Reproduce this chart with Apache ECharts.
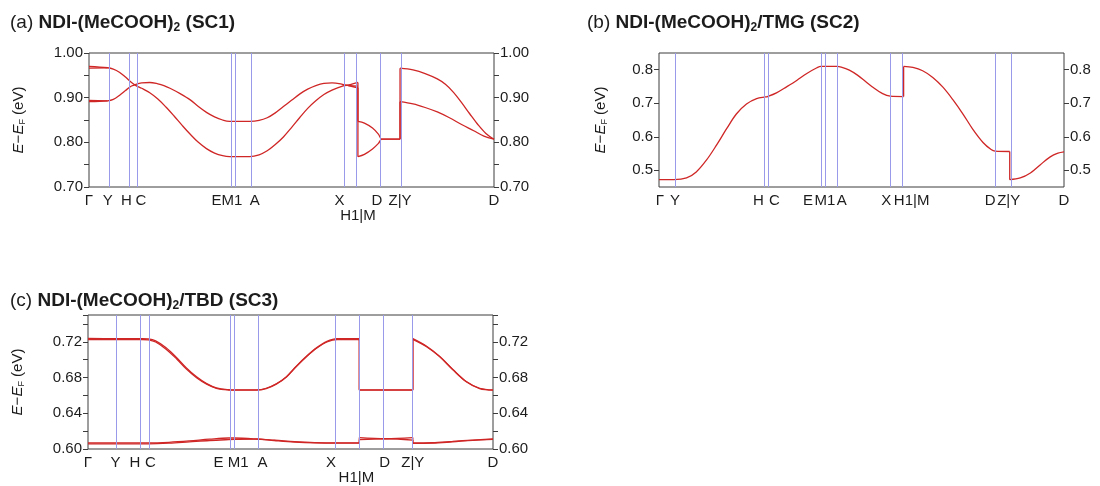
<!DOCTYPE html>
<html><head><meta charset="utf-8">
<script src="https://cdn.jsdelivr.net/npm/echarts@6/dist/echarts.min.js"></script>
<style>html,body{margin:0;padding:0;background:#fff}#c{width:1100px;height:486px}</style>
</head><body><div id="c"></div>
<script>
// ---------------- DATA ----------------
// Panel (a) NDI-(MeCOOH)2 (SC1)
const kLabelsA = ['Γ','Y','H','C','E','M1','A','X','H1|M','D','Z|Y','D'];
const kPosA = [0, 0.046, 0.105, 0.116, 0.347, 0.358, 0.397, 0.626, 0.664, 0.723, 0.768, 1];
const bandA1 = [[0,0.970],[0.046,0.967],[0.06,0.964],[0.075,0.957],[0.09,0.946],[0.105,0.934],[0.116,0.927],[0.13,0.921],[0.15,0.911],[0.17,0.897],[0.19,0.879],[0.21,0.859],[0.23,0.838],[0.25,0.818],[0.27,0.800],[0.29,0.786],[0.31,0.776],[0.33,0.770],[0.347,0.768],[0.358,0.768],[0.397,0.768],[0.42,0.772],[0.44,0.781],[0.46,0.795],[0.48,0.812],[0.50,0.833],[0.52,0.855],[0.54,0.876],[0.56,0.893],[0.58,0.907],[0.60,0.917],[0.626,0.926],[0.645,0.929],[0.664,0.934],[0.664,0.768],[0.68,0.773],[0.70,0.785],[0.715,0.798],[0.723,0.807],[0.768,0.807],[0.768,0.891],[0.80,0.886],[0.83,0.878],[0.86,0.868],[0.89,0.855],[0.92,0.840],[0.95,0.826],[0.975,0.814],[1,0.807]];
const bandA2 = [[0,0.891],[0.046,0.893],[0.06,0.896],[0.075,0.905],[0.09,0.916],[0.105,0.926],[0.116,0.930],[0.13,0.933],[0.15,0.934],[0.17,0.931],[0.185,0.927],[0.20,0.921],[0.225,0.909],[0.25,0.895],[0.27,0.880],[0.29,0.867],[0.31,0.857],[0.33,0.850],[0.347,0.847],[0.397,0.847],[0.42,0.849],[0.44,0.855],[0.46,0.866],[0.48,0.880],[0.50,0.894],[0.52,0.908],[0.54,0.919],[0.56,0.927],[0.58,0.932],[0.60,0.933],[0.626,0.930],[0.645,0.926],[0.664,0.922],[0.664,0.847],[0.68,0.843],[0.70,0.832],[0.715,0.818],[0.723,0.807],[0.768,0.807],[0.768,0.966],[0.80,0.962],[0.83,0.954],[0.86,0.942],[0.88,0.930],[0.90,0.912],[0.92,0.889],[0.94,0.864],[0.96,0.840],[0.98,0.820],[1,0.807]];
const bandA3 = [[0,0.966],[0.046,0.967]];
const bandA4 = [[0,0.894],[0.046,0.893]];
const bandA5 = [[0.626,0.928],[0.645,0.927],[0.664,0.926]];

// Panel (b) NDI-(MeCOOH)2/TMG (SC2)
const kLabelsB = ['Γ','Y','H','C','E','M1','A','X','H1|M','D','Z|Y','D'];
const kPosB = [0, 0.037, 0.263, 0.268, 0.400, 0.405, 0.439, 0.571, 0.604, 0.830, 0.866, 1];
const bandB1 = [[0,0.472],[0.037,0.472],[0.068,0.477],[0.092,0.495],[0.117,0.530],[0.142,0.575],[0.167,0.624],[0.191,0.668],[0.216,0.698],[0.241,0.714],[0.263,0.719],[0.268,0.720],[0.290,0.731],[0.315,0.749],[0.340,0.768],[0.365,0.789],[0.390,0.806],[0.400,0.810],[0.405,0.810],[0.439,0.810],[0.45,0.808],[0.47,0.799],[0.49,0.784],[0.51,0.765],[0.53,0.746],[0.55,0.730],[0.571,0.721],[0.604,0.720],[0.604,0.810],[0.627,0.807],[0.651,0.797],[0.676,0.777],[0.701,0.748],[0.726,0.710],[0.751,0.667],[0.775,0.622],[0.800,0.583],[0.820,0.562],[0.830,0.557],[0.866,0.556],[0.866,0.472],[0.892,0.477],[0.917,0.492],[0.941,0.516],[0.966,0.540],[0.985,0.551],[1,0.555]];

// Panel (c) NDI-(MeCOOH)2/TBD (SC3)
const kLabelsC = ['Γ','Y','H','C','E','M1','A','X','H1|M','D','Z|Y','D'];
const kPosC = [0, 0.068, 0.133, 0.149, 0.347, 0.361, 0.416, 0.615, 0.670, 0.735, 0.802, 1];
const bandC1 = [[0,0.7238],[0.068,0.7235],[0.133,0.7235],[0.149,0.7232],[0.167,0.7210],[0.192,0.7135],[0.219,0.7022],[0.243,0.6908],[0.268,0.6808],[0.293,0.6732],[0.317,0.6684],[0.347,0.6664],[0.361,0.6662],[0.416,0.6662],[0.44,0.6680],[0.465,0.6730],[0.49,0.6810],[0.515,0.6930],[0.54,0.7040],[0.565,0.7135],[0.59,0.7205],[0.615,0.7236],[0.670,0.7236],[0.670,0.6662],[0.735,0.6662],[0.802,0.6662],[0.802,0.7235],[0.836,0.7150],[0.868,0.7038],[0.901,0.6890],[0.934,0.6756],[0.967,0.6680],[1,0.6662]];
const bandC2 = [[0,0.7225],[0.068,0.7226],[0.133,0.7226],[0.149,0.7222],[0.167,0.7198],[0.192,0.7120],[0.219,0.7008],[0.243,0.6895],[0.268,0.6798],[0.293,0.6726],[0.317,0.6680],[0.347,0.6660],[0.361,0.6658],[0.416,0.6658],[0.44,0.6676],[0.465,0.6726],[0.49,0.6806],[0.515,0.6926],[0.54,0.7036],[0.565,0.7130],[0.59,0.7198],[0.615,0.7226],[0.670,0.7226],[0.670,0.6658],[0.735,0.6658],[0.802,0.6658],[0.802,0.7228],[0.836,0.7145],[0.868,0.7034],[0.901,0.6886],[0.934,0.6752],[0.967,0.6676],[1,0.6658]];
const bandC3 = [[0,0.6068],[0.149,0.6068],[0.20,0.6075],[0.25,0.6090],[0.30,0.6110],[0.347,0.6123],[0.361,0.6123],[0.416,0.6112],[0.46,0.6095],[0.51,0.6078],[0.56,0.6068],[0.615,0.6065],[0.670,0.6065],[0.670,0.6128],[0.735,0.6115],[0.802,0.6128],[0.802,0.6068],[0.85,0.6070],[0.90,0.6085],[0.95,0.6100],[1,0.6112]];
const bandC4 = [[0,0.6058],[0.149,0.6058],[0.20,0.6065],[0.25,0.6080],[0.30,0.6095],[0.347,0.6105],[0.361,0.6107],[0.416,0.6110],[0.46,0.6100],[0.51,0.6083],[0.56,0.6072],[0.615,0.6068],[0.670,0.6068],[0.670,0.6105],[0.735,0.6115],[0.802,0.6100],[0.802,0.6062],[0.85,0.6065],[0.90,0.6080],[0.95,0.6097],[1,0.6108]];

// y-axis tick values
const yTicksA = [0.70, 0.80, 0.90, 1.00];
const yTicksB = [0.5, 0.6, 0.7, 0.8];
const yTicksC = [0.60, 0.64, 0.68, 0.72];

// ---------------- LAYOUT / STYLE ----------------
const FONT = '"Liberation Sans", Arial, Helvetica, sans-serif';
const RED = '#cf2626';
const BLUE = '#9a9aea';
const AX = '#3c3c3c';
const TXT = '#1c1c1c';

const panels = [
  { tag:'(a) ', tail:' (SC1)', labels:kLabelsA, kpos:kPosA, bands:[bandA1,bandA2,bandA3,bandA4,bandA5],
    yMin:0.70, yMax:1.00, yStep:0.05, yTicks:yTicksA, minorTicks:true, digits:2,
    grid:{left:89, right:606, top:53, bottom:299}, title:{left:10, top:11}, nameGap:62,
    shifts:[0,0,-5,5,-13,-2,5,-3,0,-5,0,0], second:8 },
  { tag:'(b) ', tail:'/TMG (SC2)', labels:kLabelsB, kpos:kPosB, bands:[bandB1],
    yMin:0.45, yMax:0.85, yStep:0.05, yTicks:yTicksB, minorTicks:false, digits:1,
    grid:{left:659, right:36, top:53, bottom:299}, title:{left:587, top:11}, nameGap:50,
    shifts:[1,1,-7,7,-13,2,5,-4,8,-5,-1,0], second:-1 },
  { tag:'(c) ', tail:'/TBD (SC3)', labels:kLabelsC, kpos:kPosC, bands:[bandC1,bandC2,bandC3,bandC4],
    yMin:0.60, yMax:0.75, yStep:0.02, yTicks:yTicksC, minorTicks:true, digits:2,
    grid:{left:88, right:607, top:315, bottom:37}, title:{left:10, top:289}, nameGap:62,
    shifts:[0,0,-7,2,-10,4,6,-6,-3,-1,0,0], second:8 }
];

// split a band at vertical jumps (equal k) into smooth pieces and straight jump segments
function splitBand(b) {
  const pieces = [], jumps = [];
  let cur = [b[0]];
  for (let j = 1; j < b.length; j++) {
    if (b[j][0] === b[j - 1][0]) {
      pieces.push(cur);
      jumps.push([b[j - 1], b[j]]);
      cur = [b[j]];
    } else {
      cur.push(b[j]);
    }
  }
  pieces.push(cur);
  return {pieces, jumps};
}

const grids = [], xAxes = [], yAxes = [], series = [], titles = [];
panels.forEach((p, i) => {
  grids.push(Object.assign({show:true, borderColor:AX, borderWidth:1, backgroundColor:'transparent'}, p.grid));
  titles.push({
    text: '{n|' + p.tag + '}{b|NDI-(MeCOOH)}{s|2}{b|' + p.tail + '}',
    left: p.title.left, top: p.title.top, padding: 0,
    textStyle: { fontWeight:'normal', rich: {
      n:{fontFamily:FONT, fontSize:19, fontWeight:'normal', color:TXT},
      b:{fontFamily:FONT, fontSize:19, fontWeight:'bold', color:TXT},
      s:{fontFamily:FONT, fontSize:12, fontWeight:'bold', color:TXT, padding:[11,0,0,0]}
    }}
  });
  const rich = {};
  p.shifts.forEach((s, j) => {
    rich['p' + j] = {fontFamily:FONT, fontSize:15, color:TXT,
      padding: s > 0 ? [0,0,0,2*s] : [0,-2*s,0,0]};
  });
  xAxes.push({
    type:'value', gridIndex:i, min:0, max:1, position:'bottom',
    axisLine:{show:false}, axisTick:{show:false}, splitLine:{show:false},
    axisLabel:{
      customValues: p.kpos, margin:6, lineHeight:15, fontFamily:FONT, fontSize:15, color:TXT, rich: rich,
      formatter: (v) => {
        let best = 0, bd = 1e9;
        p.kpos.forEach((k, j) => { const d = Math.abs(k - v); if (d < bd) { bd = d; best = j; } });
        const t = '{p' + best + '|' + p.labels[best] + '}';
        return best === p.second ? '\n' + t : t;
      }
    }
  });
  const fmt = (v) => {
    const hit = p.yTicks.some(t => Math.abs(t - v) < 1e-6);
    return hit ? v.toFixed(p.digits) : '';
  };
  const baseY = {
    type:'value', gridIndex:i, min:p.yMin, max:p.yMax, interval:p.yStep,
    axisLine:{show:false}, splitLine:{show:false},
    axisTick:{show:true, inside:false, length:5, lineStyle:{color:AX, width:1}},
    axisLabel:{fontFamily:FONT, fontSize:15, color:TXT, margin:6}
  };
  if (!p.minorTicks) {
    baseY.axisTick.customValues = p.yTicks;
    baseY.axisLabel.customValues = p.yTicks;
  }
  const left = JSON.parse(JSON.stringify(baseY));
  left.axisLabel.formatter = fmt;
  left.position = 'left';
  left.name = '{i|E}{m|−}{i|E}{s|F}{m| (eV)}';
  left.nameLocation = 'middle';
  left.nameRotate = 90;
  left.nameGap = p.nameGap;
  left.nameTextStyle = {fontFamily:FONT, fontSize:15, color:TXT, rich:{
    i:{fontFamily:FONT, fontSize:15, fontStyle:'italic', color:TXT},
    m:{fontFamily:FONT, fontSize:15, color:TXT},
    s:{fontFamily:FONT, fontSize:9, color:TXT, padding:[7,0,0,0]}
  }};
  const right = JSON.parse(JSON.stringify(baseY));
  right.axisLabel.formatter = fmt;
  right.position = 'right';
  yAxes.push(left, right);
  const xi = i, yi = 2 * i;
  series.push({
    type:'line', xAxisIndex:xi, yAxisIndex:yi, data:[], z:1, silent:true,
    markLine:{ silent:true, symbol:['none','none'], label:{show:false}, animation:false,
      lineStyle:{color:BLUE, width:1, type:'solid', opacity:1},
      emphasis:{disabled:true},
      data: p.kpos.slice(1, -1).map(k => ({xAxis:k})) }
  });
  p.bands.forEach(b => {
    const {pieces, jumps} = splitBand(b);
    pieces.forEach(seg => series.push({
      type:'line', xAxisIndex:xi, yAxisIndex:yi, data:seg, z:3,
      showSymbol:false, symbol:'none', silent:true, smooth:0.35,
      lineStyle:{color:RED, width:1.3}
    }));
    jumps.forEach(seg => series.push({
      type:'line', xAxisIndex:xi, yAxisIndex:yi, data:seg, z:3,
      showSymbol:false, symbol:'none', silent:true, smooth:false,
      lineStyle:{color:RED, width:1.3}
    }));
  });
});

const chart = echarts.init(document.getElementById('c'), null, {renderer:'canvas'});
chart.setOption({
  animation:false, backgroundColor:'#fff',
  title:titles, grid:grids, xAxis:xAxes, yAxis:yAxes, series:series
});
</script></body></html>
